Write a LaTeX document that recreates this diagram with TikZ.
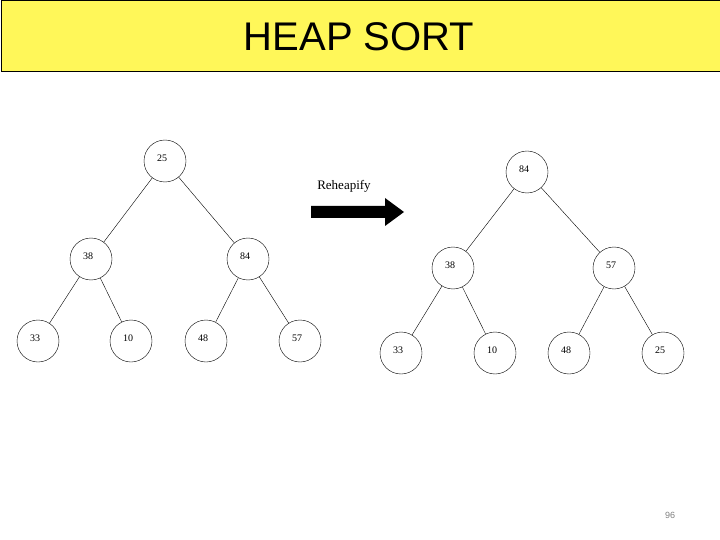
\documentclass[tikz,border=0pt]{standalone}
\usepackage{fontspec}
\setmainfont{Liberation Serif}
\setsansfont{Liberation Sans}
\begin{document}
\begin{tikzpicture}[x=1pt,y=-1pt,
  circ/.style={draw,circle,minimum size=42pt,inner sep=0pt,thin},
  lab/.style={font=\fontsize{10}{10}\selectfont},
  edge/.style={thin}]
\useasboundingbox (0,0) rectangle (720,540);
\fill[white] (0,0) rectangle (720,540);
\node[draw,fill=yellow!65,minimum width=719pt,minimum height=71pt,anchor=north west,inner sep=0pt] (title) at (0.5,0.5) {};
\node[font=\sffamily\fontsize{40}{40}\selectfont] (tt) at (359,37) {HEAP SORT};
\def\nd#1#2#3#4{\node[circ,label={[lab,xshift=-3pt,yshift=3pt]center:#4}] (#1) at (#2,#3) {};}
% left tree
\nd{a}{165}{161}{25}
\nd{b}{91}{259}{38}
\nd{c}{248}{259}{84}
\nd{d}{38}{341}{33}
\nd{e}{131}{341}{10}
\nd{f}{206}{341}{48}
\nd{g}{300}{341}{57}
\draw[edge] (a)--(b); \draw[edge] (a)--(c);
\draw[edge] (b)--(d); \draw[edge] (b)--(e);
\draw[edge] (c)--(f); \draw[edge] (c)--(g);
% right tree
\nd{A}{527}{172}{84}
\nd{B}{453}{268}{38}
\nd{C}{614}{268}{57}
\nd{D}{401}{353}{33}
\nd{E}{495}{353}{10}
\nd{F}{569}{353}{48}
\nd{G}{663}{353}{25}
\draw[edge] (A)--(B); \draw[edge] (A)--(C);
\draw[edge] (B)--(D); \draw[edge] (B)--(E);
\draw[edge] (C)--(F); \draw[edge] (C)--(G);
% arrow
\node[font=\fontsize{13}{13}\selectfont] (rh) at (344,186) {Reheapify};
\fill (311,206) -- (385,206) -- (385,198) -- (404,212) -- (385,226) -- (385,218) -- (311,218) -- cycle;
\node[font=\sffamily\fontsize{9}{9}\selectfont,text=gray] (pg) at (670,515) {96};
\end{tikzpicture}
\end{document}
